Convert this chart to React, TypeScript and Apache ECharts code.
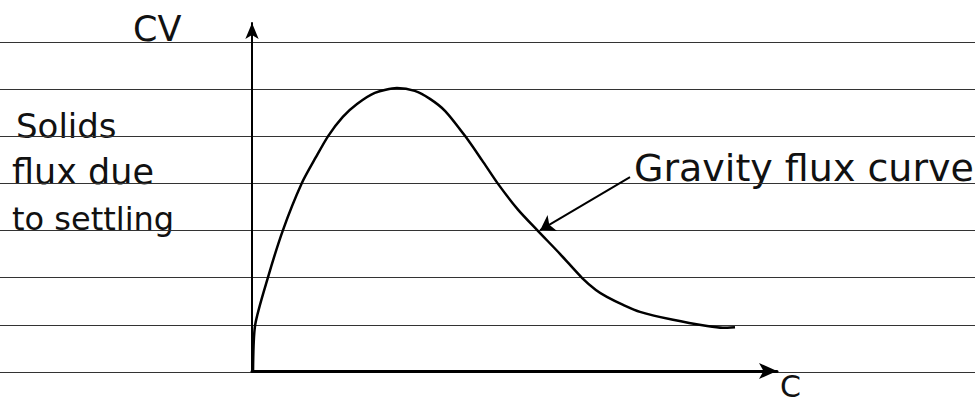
import React, { useEffect, useRef } from "react";
import * as echarts from "echarts";

// Conceptual sketch: solids concentration C (x) vs settling flux CV (y), arbitrary units 0..10
const curveC = [0.02, 0.06, 0.3, 0.59, 0.95, 1.22, 1.45, 1.73, 2.0, 2.34, 2.76, 3.1, 3.39, 3.68, 4.06, 4.38, 4.69, 5.07, 5.45, 5.87, 6.29, 6.55, 6.76, 7.07, 7.39, 8.02, 8.67, 8.97, 9.2];
const curveCV = [0, 1.32, 2.67, 4.05, 5.4, 6.15, 6.75, 7.3, 7.67, 7.99, 8.13, 8.05, 7.82, 7.47, 6.75, 6.06, 5.37, 4.63, 4.02, 3.36, 2.67, 2.33, 2.13, 1.9, 1.7, 1.47, 1.29, 1.24, 1.26];
// annotation arrow: from label to curve (data units)
const arrowFrom = [7.2, 5.57];
const arrowTo = [5.49, 4.05];
const yTitle = "CV";
const xTitle = "C";
const leftLabel = ["Solids", "flux due", "to settling"];
const curveLabel = "Gravity flux curve";
const paperRules = 7; // ruled-paper intervals

const FONT = "DejaVu Sans";

export default function App() {
  const ref = useRef<HTMLDivElement>(null);
  useEffect(() => {
    document.body.style.margin = "0";
    if (!ref.current) return;
    const chart = echarts.init(ref.current, null, { renderer: "svg" });
    const data = curveC.map((c, i) => [c, curveCV[i]]);
    const txt = (text: string, x: number, y: number, size: number) => ({
      type: "text",
      x,
      y,
      style: { text, fill: "#111", font: `${size}px "${FONT}"`, verticalAlign: "middle", align: "left" },
    });
    chart.setOption({
      animation: false,
      backgroundColor: "#fff",
      grid: [
        { left: 252, top: 23, right: 198, bottom: 32 },
        { left: 0, top: 42, right: 0, bottom: 31 },
      ],
      xAxis: [
        {
          type: "value",
          gridIndex: 0,
          min: 0,
          max: 10,
          axisLine: { show: true, lineStyle: { color: "#000", width: 3 }, symbol: ["none", "arrow"], symbolSize: [12, 18] },
          axisTick: { show: false },
          axisLabel: { show: false },
          splitLine: { show: false },
        },
        { type: "value", gridIndex: 1, min: 0, max: 1, show: false },
      ],
      yAxis: [
        {
          type: "value",
          gridIndex: 0,
          min: 0,
          max: 10,
          axisLine: { show: true, lineStyle: { color: "#000", width: 2 }, symbol: ["none", "arrow"], symbolSize: [10, 16] },
          axisTick: { show: false },
          axisLabel: { show: false },
          splitLine: { show: false },
        },
        {
          type: "value",
          gridIndex: 1,
          min: 0,
          max: paperRules,
          interval: 1,
          axisLine: { show: false },
          axisTick: { show: false },
          axisLabel: { show: false },
          splitLine: { show: true, lineStyle: { color: "#333", width: 1 } },
        },
      ],
      series: [
        {
          type: "line",
          xAxisIndex: 0,
          yAxisIndex: 0,
          data,
          smooth: 0.25,
          showSymbol: false,
          lineStyle: { color: "#000", width: 2.5 },
          z: 5,
          markLine: {
            silent: true,
            symbol: ["none", "arrow"],
            symbolSize: 14,
            label: { show: false },
            lineStyle: { color: "#000", width: 2, type: "solid" },
            data: [[{ coord: arrowFrom }, { coord: arrowTo }]],
          },
        },
      ],
      graphic: [
        txt(yTitle, 133, 29, 35),
        txt(leftLabel[0], 16, 126, 34),
        txt(leftLabel[1], 12, 172, 35),
        txt(leftLabel[2], 12, 219, 32),
        txt(curveLabel, 634, 168, 38),
        txt(xTitle, 780, 386, 30),
      ],
    });
    return () => chart.dispose();
  }, []);
  return <div ref={ref} style={{ width: 975, height: 403 }} />;
}
